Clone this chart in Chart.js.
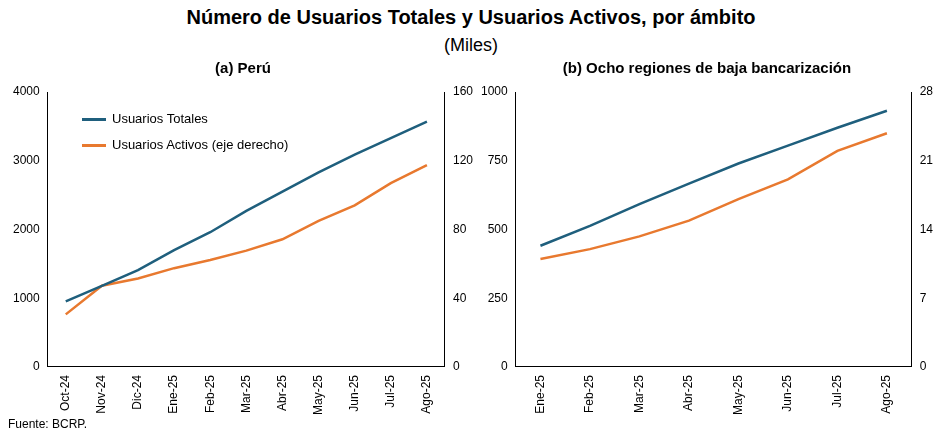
<!DOCTYPE html>
<html><head><meta charset="utf-8">
<script src="https://cdn.jsdelivr.net/npm/chart.js@4"></script>
<style>
body{margin:0;width:942px;height:437px;background:#fff;font-family:"Liberation Sans",Arial,sans-serif;position:relative;overflow:hidden}
#t{position:absolute;top:6px;width:942px;text-align:center;font-weight:bold;font-size:20px}
#s{position:absolute;top:35px;width:942px;text-align:center;font-size:18px}
#f{position:absolute;left:8px;top:417px;font-size:12px}
.c{position:absolute;top:58px;height:360px}
#lg{position:absolute;left:82px;top:106px;font-size:13px;line-height:26px}
#lg span{display:inline-block;width:24px;height:3px;vertical-align:middle;margin-right:6px}
</style></head><body>
<div id="t">Número de Usuarios Totales y Usuarios Activos, por ámbito</div>
<div id="s">(Miles)</div>
<div class="c" style="left:10px;width:470px"><canvas id="a"></canvas></div>
<div class="c" style="left:478px;width:462px"><canvas id="b"></canvas></div>
<div id="lg"><div><span style="background:#1f5f7d"></span>Usuarios Totales</div><div><span style="background:#e8792f"></span>Usuarios Activos (eje derecho)</div></div>
<div id="f">Fuente: BCRP.</div>
<script>
const mesesPeru = ['Oct-24','Nov-24','Dic-24','Ene-25','Feb-25','Mar-25','Abr-25','May-25','Jun-25','Jul-25','Ago-25']
const totalesPeru = [955,1180,1410,1700,1960,2270,2550,2830,3090,3330,3570]
const activosPeru = [30.6,47.3,51.5,57.5,62.3,67.7,74.3,85,94,107,117.5]
const mesesRegiones = ['Ene-25','Feb-25','Mar-25','Abr-25','May-25','Jun-25','Jul-25','Ago-25']
const totalesRegiones = [441,513,592,667,740,805,870,932]
const activosRegiones = [11.0,12.0,13.3,14.9,17.1,19.1,22.0,23.8]

const azul = '#1f5f7d', naranja = '#e8792f'
Chart.defaults.font.family = '"Liberation Sans",Arial,sans-serif'
Chart.defaults.color = '#000'

function axis(pos, max, step) {
    return {
        position: pos, min: 0, max: max,
        border: {color: '#000'},
        grid: {display: false, drawTicks: true, tickLength: 5, color: '#000'},
        ticks: {stepSize: step, font: {size: 12}, color: '#000', callback: v => String(v)}
    }
}

function makeChart(id, title, labels, tot, act, yMax, yStep, y2Max, y2Step) {
    new Chart(document.getElementById(id), {
        type: 'line',
        data: {
            labels: labels,
            datasets: [
                {label: 'Usuarios Totales', data: tot, borderColor: azul, borderWidth: 2.5, pointRadius: 0, yAxisID: 'y'},
                {label: 'Usuarios Activos (eje derecho)', data: act, borderColor: naranja, borderWidth: 2.5, pointRadius: 0, yAxisID: 'y2'}
            ]
        },
        options: {
            responsive: true, maintainAspectRatio: false, animation: false,
            layout: {padding: {right: 4}},
            plugins: {
                title: {display: true, text: title, font: {size: 15, weight: 'bold'}, padding: {top: 2, bottom: 14}},
                legend: {display: false}
            },
            scales: {
                x: {
                    offset: true,
                    border: {color: '#000'},
                    grid: {display: false, drawTicks: true, tickLength: 5, color: '#000'},
                    ticks: {maxRotation: 90, minRotation: 90, font: {size: 12}, color: '#000'}
                },
                y: axis('left', yMax, yStep),
                y2: axis('right', y2Max, y2Step)
            }
        }
    })
}

makeChart('a', '(a) Perú', mesesPeru, totalesPeru, activosPeru, 4000, 1000, 160, 40)
makeChart('b', '(b) Ocho regiones de baja bancarización', mesesRegiones, totalesRegiones, activosRegiones, 1000, 250, 28, 7)
</script>
</body></html>
